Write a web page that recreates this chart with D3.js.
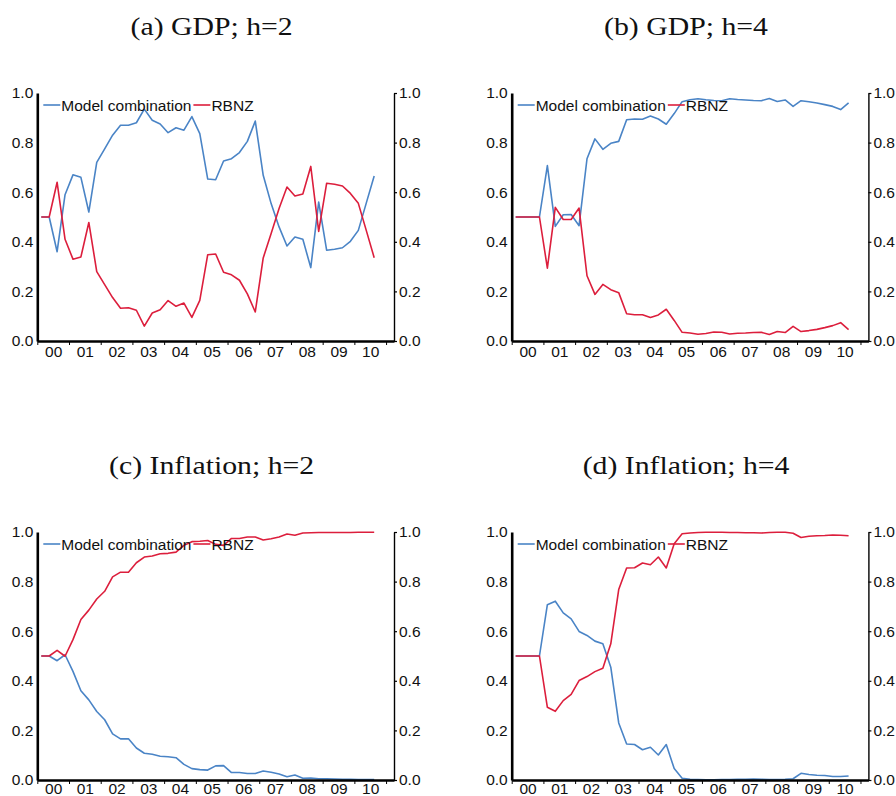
<!DOCTYPE html>
<html>
<head>
<meta charset="utf-8">
<script src="https://cdn.jsdelivr.net/npm/d3@7"></script>
<style>
  html, body { margin: 0; padding: 0; background: #fff; }
  svg { display: block; }
</style>
</head>
<body>
<svg id="chart" width="896" height="796"></svg>
<script>
// Quarterly combination weights, 2000Q1 – 2010Q3
const years = d3.range(2000, 2012);          // year boundaries for the x ticks
const yearLabels = ["00","01","02","03","04","05","06","07","08","09","10"];
const quarters = d3.range(43).map(i => 2000 + Math.floor(i / 4) + ((i % 4) + 0.5) / 4);
const yTicks = [0, 0.2, 0.4, 0.6, 0.8, 1.0];
const seriesNames = ["Model combination", "RBNZ"];

const gdpH2Model = [0.50,0.50,0.36,0.59,0.67,0.66,0.52,0.72,0.775,0.83,0.87,0.87,0.88,0.935,0.89,0.875,0.84,0.86,0.85,0.905,0.836,0.653,0.65,0.726,0.735,0.76,0.805,0.887,0.668,0.554,0.46,0.383,0.419,0.41,0.296,0.56,0.366,0.37,0.376,0.402,0.446,0.556,0.665];
const gdpH2Rbnz  = [0.50,0.50,0.64,0.41,0.33,0.339,0.478,0.28,0.227,0.175,0.132,0.134,0.124,0.06,0.113,0.126,0.163,0.14,0.153,0.095,0.164,0.348,0.351,0.277,0.267,0.245,0.19,0.117,0.335,0.433,0.534,0.621,0.585,0.593,0.704,0.442,0.636,0.632,0.625,0.595,0.555,0.446,0.336];

const gdpH4Model = [0.5,0.5,0.5,0.5,0.707,0.462,0.509,0.51,0.465,0.735,0.815,0.773,0.797,0.805,0.892,0.895,0.894,0.907,0.895,0.874,0.917,0.965,0.973,0.977,0.973,0.97,0.969,0.977,0.974,0.972,0.97,0.969,0.978,0.966,0.972,0.946,0.969,0.965,0.96,0.953,0.946,0.933,0.96];
const gdpH4Rbnz  = [0.5,0.5,0.5,0.5,0.294,0.539,0.49,0.49,0.536,0.263,0.188,0.228,0.207,0.195,0.11,0.106,0.106,0.095,0.105,0.128,0.083,0.035,0.032,0.027,0.03,0.036,0.035,0.028,0.031,0.032,0.034,0.035,0.026,0.038,0.034,0.059,0.038,0.042,0.047,0.054,0.062,0.074,0.046];

const inflH2Model = [0.5,0.5,0.481,0.505,0.438,0.36,0.323,0.276,0.243,0.186,0.166,0.166,0.129,0.108,0.104,0.096,0.094,0.09,0.063,0.046,0.042,0.04,0.057,0.058,0.03,0.03,0.026,0.026,0.036,0.031,0.024,0.013,0.02,0.007,0.008,0.005,0.005,0.004,0.003,0.003,0.002,0.002,0.002];
const inflH2Rbnz  = [0.5,0.5,0.523,0.499,0.566,0.647,0.685,0.73,0.761,0.819,0.838,0.838,0.876,0.899,0.903,0.912,0.914,0.919,0.946,0.961,0.963,0.966,0.95,0.946,0.974,0.974,0.98,0.98,0.968,0.973,0.98,0.992,0.987,0.996,0.997,0.998,0.998,0.998,0.998,0.998,0.999,0.999,0.999];

const inflH4Model = [0.5,0.5,0.5,0.5,0.707,0.721,0.674,0.65,0.599,0.583,0.56,0.549,0.455,0.23,0.145,0.143,0.122,0.132,0.101,0.143,0.046,0.007,0.003,0.002,0.001,0.001,0.002,0.002,0.003,0.003,0.004,0.003,0.002,0.002,0.003,0.005,0.027,0.022,0.019,0.018,0.014,0.014,0.016];
const inflH4Rbnz  = [0.5,0.5,0.5,0.5,0.293,0.277,0.32,0.345,0.401,0.417,0.437,0.451,0.549,0.768,0.855,0.856,0.875,0.868,0.899,0.855,0.953,0.993,0.996,0.998,0.999,0.999,0.999,0.998,0.998,0.997,0.997,0.996,0.998,0.999,0.999,0.995,0.978,0.983,0.985,0.986,0.988,0.987,0.985];

const panels = [
  { title: "(a) GDP; h=2",       left: 37.3,  top: 93,    model: gdpH2Model,  rbnz: gdpH2Rbnz },
  { title: "(b) GDP; h=4",       left: 511.7, top: 93,    model: gdpH4Model,  rbnz: gdpH4Rbnz },
  { title: "(c) Inflation; h=2", left: 37.3,  top: 532,   model: inflH2Model, rbnz: inflH2Rbnz },
  { title: "(d) Inflation; h=4", left: 511.7, top: 532,   model: inflH4Model, rbnz: inflH4Rbnz }
];

const W = 356.7, H = 248;
const colors = { model: "#4a84c6", rbnz: "#dc1e3c" };
const sans = "'Liberation Sans', Arial, sans-serif";

const svg = d3.select("#chart");

panels.forEach(p => {
  const g = svg.append("g").attr("transform", `translate(${p.left},${p.top})`);
  const x = d3.scaleLinear().domain([2000, 2011.25]).range([0, W]);
  const y = d3.scaleLinear().domain([0, 1]).range([H, 0]);

  // title
  const t = svg.append("text")
    .attr("x", p.left + W / 2 - 4)
    .attr("y", p.top - 58)
    .attr("text-anchor", "middle")
    .style("font-family", "'Liberation Serif', 'Times New Roman', serif")
    .style("font-size", "25px")
    .attr("fill", "#111")
    .text(p.title);
  const len = t.node().getComputedTextLength();
  t.attr("textLength", len * 1.19).attr("lengthAdjust", "spacingAndGlyphs");

  // lines
  const line = d3.line().x((d, i) => x(quarters[i])).y(d => y(d));
  g.append("path").datum(p.model).attr("d", line)
    .attr("fill", "none").attr("stroke", colors.model).attr("stroke-width", 1.6)
    .attr("stroke-linejoin", "round");
  g.append("path").datum(p.rbnz).attr("d", line)
    .attr("fill", "none").attr("stroke", colors.rbnz).attr("stroke-width", 1.6)
    .attr("stroke-linejoin", "round");

  // left axis
  const la = g.append("g")
    .call(d3.axisLeft(y).tickValues(yTicks).tickFormat(d3.format(".1f")).tickSize(0).tickSizeOuter(0).tickPadding(4));
  la.select(".domain").attr("stroke", "#000").attr("stroke-width", 2.6);

  // right axis
  const ra = g.append("g").attr("transform", `translate(${W},0)`)
    .call(d3.axisRight(y).tickValues(yTicks).tickFormat(d3.format(".1f")).tickSize(3).tickSizeOuter(0).tickPadding(2));
  ra.select(".domain").attr("stroke", "#000").attr("stroke-width", 1.4);
  ra.selectAll(".tick line").attr("stroke", "#000").attr("stroke-width", 1.2);

  // bottom axis: year boundary ticks, labels centred within each year
  const ba = g.append("g").attr("transform", `translate(0,${H})`)
    .call(d3.axisBottom(x).tickValues(years).tickFormat("").tickSize(4).tickSizeOuter(0));
  ba.select(".domain").attr("stroke", "#000").attr("stroke-width", 2.6);
  ba.selectAll(".tick line").attr("stroke", "#000").attr("stroke-width", 1);
  const bl = g.append("g").attr("transform", `translate(0,${H})`)
    .call(d3.axisBottom(x).tickValues(yearLabels.map((d, i) => 2000.5 + i))
      .tickFormat((d, i) => yearLabels[i]).tickSize(0).tickPadding(p.top > 400 ? 3 : 5));
  bl.select(".domain").remove();

  [la, ra, bl].forEach(a => a.selectAll("text")
    .style("font-family", sans).style("font-size", "15.5px").attr("fill", "#111"));

  // legend
  const lg = g.append("g").attr("transform", "translate(6,12)");
  let lx = 0;
  [["model", seriesNames[0]], ["rbnz", seriesNames[1]]].forEach(([k, name]) => {
    lg.append("line").attr("x1", lx).attr("x2", lx + 17).attr("y1", 0).attr("y2", 0)
      .attr("stroke", colors[k]).attr("stroke-width", 1.6);
    const tx = lg.append("text").attr("x", lx + 18).attr("y", 0).attr("dy", "0.36em")
      .style("font-family", sans).style("font-size", "15.5px").attr("fill", "#111").text(name);
    lx += 18 + tx.node().getComputedTextLength() + 2;
  });
});
</script>
</body>
</html>
